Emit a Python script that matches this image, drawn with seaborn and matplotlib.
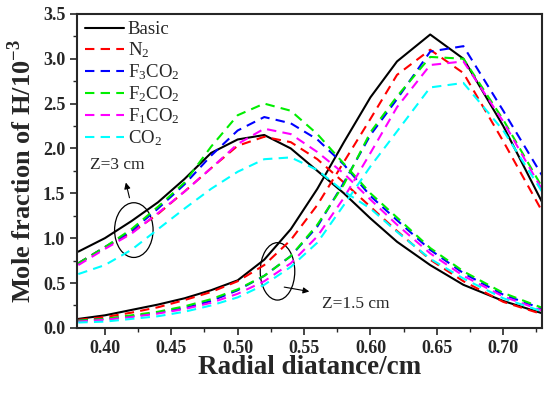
import numpy as np
import pandas as pd
import matplotlib
matplotlib.use('Agg')
import matplotlib.pyplot as plt
from matplotlib.patches import Ellipse
from matplotlib.ticker import MultipleLocator
import seaborn as sns

sns.set_style('ticks')
plt.rcParams['font.family'] = ['Liberation Serif', 'DejaVu Serif']
plt.rcParams['mathtext.fontset'] = 'custom'
plt.rcParams['mathtext.rm'] = 'Liberation Serif'
plt.rcParams['mathtext.bf'] = 'Liberation Serif:bold'

# radial distance (cm)
r = [0.38, 0.40, 0.42, 0.44, 0.46, 0.48, 0.50, 0.52, 0.54, 0.56,
     0.58, 0.60, 0.62, 0.645, 0.67, 0.70, 0.73]

labels = ['Basic', r'$\mathregular{N_2}$', r'$\mathregular{F_3CO_2}$',
          r'$\mathregular{F_2CO_2}$', r'$\mathregular{F_1CO_2}$', r'$\mathregular{CO_2}$']
colors = ['black', 'red', 'blue', '#00ee00', 'magenta', 'cyan']

# Z = 3 cm
basic_z3 = [0.85, 1.00, 1.19, 1.40, 1.66, 1.95, 2.10, 2.15, 2.00, 1.75, 1.50, 1.22, 0.96, 0.70, 0.48, 0.30, 0.16]
n2_z3    = [0.72, 0.90, 1.06, 1.27, 1.52, 1.78, 2.03, 2.13, 2.07, 1.88, 1.62, 1.35, 1.08, 0.76, 0.52, 0.29, 0.15]
f3_z3    = [0.72, 0.90, 1.08, 1.33, 1.60, 1.92, 2.20, 2.35, 2.28, 2.10, 1.82, 1.47, 1.20, 0.87, 0.61, 0.37, 0.21]
f2_z3    = [0.72, 0.90, 1.10, 1.35, 1.62, 2.02, 2.37, 2.50, 2.42, 2.16, 1.83, 1.50, 1.23, 0.89, 0.63, 0.39, 0.22]
f1_z3    = [0.70, 0.88, 1.05, 1.28, 1.52, 1.78, 2.05, 2.22, 2.16, 1.96, 1.72, 1.43, 1.15, 0.83, 0.58, 0.35, 0.19]
co2_z3   = [0.60, 0.70, 0.87, 1.10, 1.33, 1.55, 1.74, 1.88, 1.90, 1.76, 1.52, 1.33, 1.07, 0.77, 0.55, 0.33, 0.18]

# Z = 1.5 cm
basic_z15 = [0.10, 0.14, 0.20, 0.26, 0.33, 0.42, 0.53, 0.76, 1.10, 1.55, 2.07, 2.57, 2.97, 3.27, 3.00, 2.25, 1.38]
n2_z15    = [0.09, 0.12, 0.17, 0.23, 0.31, 0.40, 0.52, 0.70, 0.98, 1.37, 1.85, 2.33, 2.82, 3.10, 2.84, 2.08, 1.28]
f3_z15    = [0.08, 0.10, 0.13, 0.17, 0.22, 0.30, 0.42, 0.58, 0.80, 1.13, 1.62, 2.15, 2.55, 3.08, 3.14, 2.42, 1.68]
f2_z15    = [0.08, 0.10, 0.14, 0.18, 0.24, 0.32, 0.43, 0.58, 0.80, 1.15, 1.60, 2.18, 2.58, 3.02, 3.00, 2.32, 1.55]
f1_z15    = [0.07, 0.09, 0.12, 0.16, 0.21, 0.28, 0.38, 0.52, 0.72, 1.02, 1.45, 1.95, 2.46, 2.93, 2.97, 2.30, 1.52]
co2_z15   = [0.06, 0.07, 0.10, 0.13, 0.18, 0.25, 0.34, 0.48, 0.68, 0.95, 1.37, 1.80, 2.19, 2.68, 2.73, 2.20, 1.50]

z3 = [basic_z3, n2_z3, f3_z3, f2_z3, f1_z3, co2_z3]
z15 = [basic_z15, n2_z15, f3_z15, f2_z15, f1_z15, co2_z15]

fig = plt.figure(figsize=(5.5, 3.96), dpi=100)
ax = fig.add_axes([0.14, 0.172, 0.845, 0.793])

for i in range(6):
    ls = '-' if i == 0 else (0, (4.5, 3))
    for group, lab in ((z3, labels[i]), (z15, None)):
        df = pd.DataFrame({'r': r, 'h': group[i]})
        sns.lineplot(data=df, x='r', y='h', color=colors[i], lw=1.5,
                     linestyle=ls, label=lab, ax=ax, legend=False)

ax.set_xlim(0.379, 0.729)
ax.set_ylim(0, 3.5)
ax.xaxis.set_major_locator(MultipleLocator(0.05))
ax.xaxis.set_minor_locator(MultipleLocator(0.025))
ax.yaxis.set_major_locator(MultipleLocator(0.5))
ax.yaxis.set_minor_locator(MultipleLocator(0.25))
ax.xaxis.set_major_formatter(plt.FormatStrFormatter('%.2f'))
ax.yaxis.set_major_formatter(plt.FormatStrFormatter('%.1f'))
ax.tick_params(which='major', direction='out', length=5, width=1.2, labelsize=13)
ax.tick_params(which='minor', direction='out', length=3, width=1.0)
for t in ax.get_xticklabels() + ax.get_yticklabels():
    t.set_fontweight('bold')
for s in ax.spines.values():
    s.set_linewidth(1.5)

ax.set_xlabel('Radial diatance/cm', fontsize=19.5, fontweight='bold', labelpad=-1)
ax.set_ylabel(r'Mole fraction of H/10$^{\mathbf{-3}}$', fontsize=19, fontweight='bold', labelpad=5)

leg = ax.legend(loc='upper left', frameon=False, fontsize=13.5, handlelength=2.1,
                handletextpad=0.2, labelspacing=0.12, borderaxespad=0.1,
                borderpad=0.3)

# annotations
ax.add_patch(Ellipse((0.4218, 1.09), 0.029, 0.61, fill=False, lw=0.9, color='black'))
ax.annotate('', xy=(0.4153, 1.65), xytext=(0.4190, 1.42),
            arrowprops=dict(arrowstyle='-|>', color='black', lw=0.8, mutation_scale=9))
ax.text(0.389, 1.82, 'Z=3 cm', fontsize=12.5, va='center', ha='left')

ax.add_patch(Ellipse((0.530, 0.63), 0.026, 0.64, fill=False, lw=0.9, color='black'))
ax.annotate('', xy=(0.556, 0.40), xytext=(0.533, 0.46),
            arrowprops=dict(arrowstyle='-|>', color='black', lw=0.8, mutation_scale=9))
ax.text(0.5635, 0.27, 'Z=1.5 cm', fontsize=12.5, va='center', ha='left')

fig.savefig('out.png', dpi=100)
